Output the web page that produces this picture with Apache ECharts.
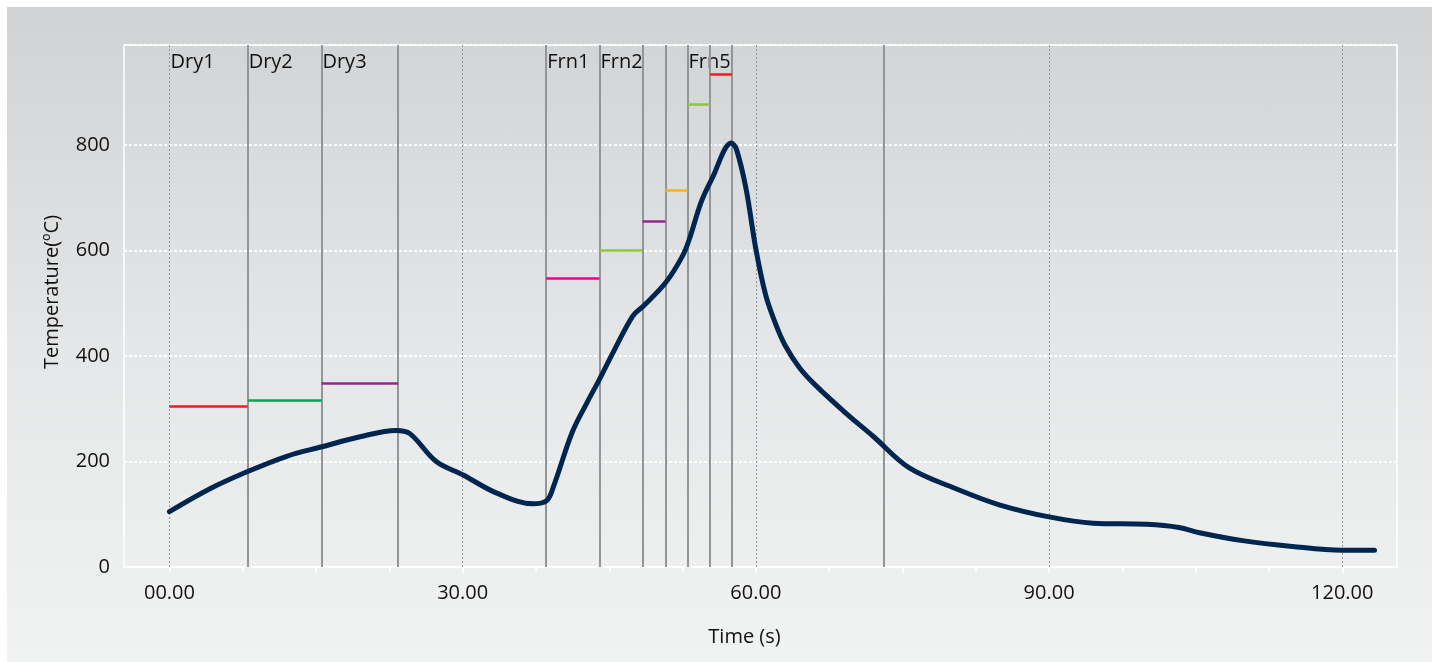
<!DOCTYPE html>
<html>
<head>
<meta charset="utf-8">
<title>Temperature profile</title>
<script src="https://cdn.jsdelivr.net/npm/echarts@6/dist/echarts.min.js"></script>
<style>
  html, body {
    margin: 0;
    padding: 0;
    background: #fff;
  }
  #chart {
    position: absolute;
    left: 7px;
    top: 7px;
    width: 1425px;
    height: 655px;
    background: linear-gradient(to bottom, #d1d2d4 0%, #e6e7e8 55%, #f1f2f2 100%);
  }
</style>
</head>
<body>
<div id="chart"></div>
<script>
// furnace temperature curve
const timeS = [0, 4.1, 8, 12, 15.6, 19.5, 23.2, 24.6, 27.3, 30, 33.5, 37.2, 38.6, 39.3, 41.2, 42.7, 44, 45.4, 47.4, 48.5, 50.8, 52.5, 53.2, 54.4, 55.5, 57.5, 58.0, 59.0, 60.0, 61.0, 62.0, 63.0, 64.5, 66.2, 69.2, 72, 75.7, 80.8, 84.9, 90, 94.5, 100, 103.3, 105.4, 109.8, 114.9, 120, 123.3]
const tempC = [105, 148, 181, 210, 228, 247, 259, 253, 200, 175, 140, 120, 126, 153, 255, 311, 356, 407, 476, 495, 540, 590, 622, 692, 736, 804, 793, 717, 603, 516, 462, 420, 377, 343, 292, 248, 188, 146, 118, 95, 83, 81, 75, 65, 50, 39, 32, 32]

// zone boundaries and setpoints
const zoneBounds = [8, 15.55, 23.4, 38.55, 44, 48.4, 50.75, 53, 55.3, 57.55, 73.05]
const segStart = [0, 8, 15.55, 38.55, 44, 48.4, 50.75, 53, 55.3]
const segEnd = [8, 15.55, 23.4, 44, 48.4, 50.75, 53, 55.3, 57.55]
const segTemp = [304, 317, 348, 547, 600, 655, 714, 877, 935]
const segColor = ['#ed1c24', '#00a651', '#92278f', '#ec008c', '#8dc63f', '#92278f', '#f6b21b', '#8dc63f', '#ed1c24']

const zoneNames = ['Dry1', 'Dry2', 'Dry3', 'Frn1', 'Frn2', 'Frn5']
const zoneNameT = [0, 8, 15.55, 38.55, 44, 53]
const zoneNameY = 958

const xLabels = [0, 30, 60, 90, 120]
const xTicks = [0, 7.5, 15, 22.5, 30, 37.5, 45, 52.5, 60, 67.5, 75, 82.5, 90, 97.5, 105, 112.5, 120]

const font = '"Open Sans", "Noto Sans", sans-serif'
const textColor = '#111111'

const chart = echarts.init(document.getElementById('chart'))

chart.setOption({
  animation: false,
  grid: {
    left: 117,
    right: 35,
    top: 38,
    bottom: 95,
    show: true,
    borderColor: '#ffffff',
    borderWidth: 1.5,
    backgroundColor: 'transparent'
  },
  xAxis: {
    type: 'value',
    min: -4.65,
    max: 125.6,
    name: 'Time (s)',
    nameLocation: 'middle',
    nameGap: 60,
    nameTextStyle: {
      fontFamily: font,
      fontSize: 20,
      color: textColor,
      padding: [0, 32, 0, 0]
    },
    axisLine: { lineStyle: { color: '#ffffff', width: 2 } },
    axisTick: {
      show: true,
      customValues: xTicks,
      length: 6,
      lineStyle: { color: '#ffffff', width: 1.5 }
    },
    axisLabel: {
      customValues: xLabels,
      margin: 16,
      fontFamily: font,
      fontSize: 20,
      color: textColor,
      formatter: v => v.toFixed(2).padStart(5, '0')
    },
    splitLine: { show: false }
  },
  yAxis: {
    type: 'value',
    min: 0,
    max: 990,
    interval: 200,
    name: 'Temperature(ºC)',
    nameLocation: 'middle',
    nameGap: 62,
    nameTextStyle: {
      fontFamily: font,
      fontSize: 20,
      color: textColor,
      padding: [0, 0, 0, 28]
    },
    axisLine: { show: false },
    axisTick: { show: false },
    axisLabel: {
      margin: 14,
      fontFamily: font,
      fontSize: 20,
      color: textColor,
      showMaxLabel: false
    },
    splitLine: {
      lineStyle: { color: '#ffffff', width: 2, type: [3, 2] }
    }
  },
  series: [
    {
      // reference grid and zone boundary lines
      type: 'line',
      data: [],
      silent: true,
      z: 1,
      markLine: {
        silent: true,
        symbol: 'none',
        label: { show: false },
        data: xLabels.map(v => ({
          xAxis: v,
          lineStyle: { color: '#939598', width: 1, type: [2, 2] }
        })).concat(zoneBounds.map(v => ({
          xAxis: v,
          lineStyle: { color: '#939598', width: 2, type: 'solid' }
        })))
      }
    },
    {
      // setpoint per zone
      type: 'line',
      data: [],
      silent: true,
      z: 2,
      markLine: {
        silent: true,
        symbol: 'none',
        label: { show: false },
        data: segTemp.map((t, i) => [
          { coord: [segStart[i], t], lineStyle: { color: segColor[i], width: 2.5, type: 'solid' } },
          { coord: [segEnd[i], t] }
        ])
      }
    },
    {
      type: 'scatter',
      symbolSize: 0,
      silent: true,
      z: 3,
      itemStyle: { opacity: 1 },
      data: zoneNames.map((n, i) => ({ name: n, value: [zoneNameT[i], zoneNameY] })),
      label: {
        show: true,
        position: 'right',
        distance: 1,
        formatter: p => p.name,
        fontFamily: font,
        fontSize: 20,
        color: textColor
      }
    },
    {
      name: 'Temperature',
      type: 'line',
      smooth: 0.35,
      showSymbol: false,
      z: 5,
      data: timeS.map((t, i) => [t, tempC[i]]),
      lineStyle: { color: '#00264f', width: 5, cap: 'round' }
    }
  ]
})
</script>
</body>
</html>
